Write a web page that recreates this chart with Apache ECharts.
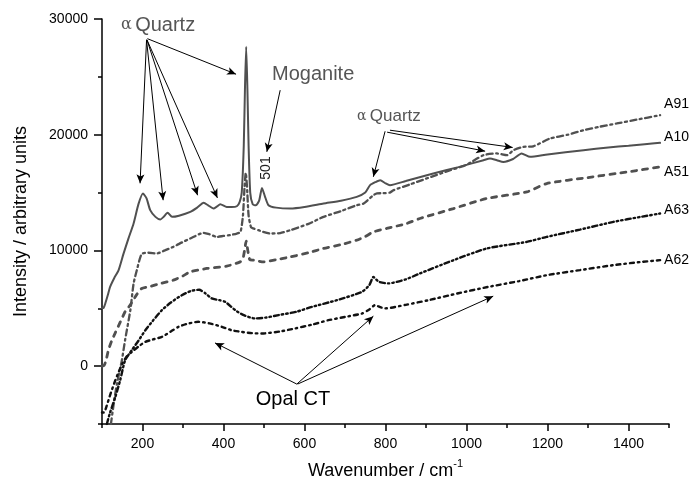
<!DOCTYPE html>
<html>
<head>
<meta charset="utf-8">
<script src="https://cdn.jsdelivr.net/npm/echarts@6/dist/echarts.min.js"></script>
<style>html,body{margin:0;padding:0;background:#fff}#c{width:691px;height:490px}</style>
</head>
<body>
<div id="c"></div>
<script>
// ---- data (wavenumber / intensity) ----
const wnA10 = [100,104,108,114,120,130,141,153,165,178,190,201,210,219,232,244,252,262,273,290,318,335,351,362,375,384,392,408,420,433,440,445,450,453,456,459,462,466,472,480,488,495,502,511,530,565,600,647,690,729,750,762,775,787,800,811,850,918,980,1042,1058,1075,1091,1115,1136,1157,1200,1289,1350,1400,1440,1478];
const intA10 = [5000,5040,5400,6100,6850,7600,8290,9700,11000,12330,14000,14920,14500,13480,12900,12670,12900,13250,12900,13000,13330,13700,14110,13900,13620,13800,14000,13760,13750,13820,14200,15000,19000,24000,27600,24000,19000,15000,14000,13900,14300,15400,14700,13910,13700,13620,13750,14050,14300,14630,15000,15640,15900,16070,15800,15640,16000,16650,17200,17800,17950,17800,17650,17900,18380,18090,18300,18660,18900,19050,19180,19300];

const wnA91 = [122,130,137,149,157,170,178,186,198,215,235,255,276,298,318,351,365,384,400,416,433,442,448,452,455,458,462,468,474,490,515,540,565,610,647,690,729,746,770,779,795,811,820,860,900,960,1000,1042,1075,1100,1116,1140,1165,1206,1250,1289,1330,1371,1420,1478];
const intA91 = [-5000,-3000,-1500,500,2250,4840,7140,8290,9700,9800,9740,10000,10310,10700,11030,11520,11400,11170,11250,11320,11460,11600,13000,15500,16700,15500,13000,12000,11900,11700,11460,11500,11750,12300,12900,13400,13910,14050,14770,14920,14950,15000,15210,15700,16200,16930,17400,18230,18380,18230,18660,18950,19000,19670,20000,20390,20700,20970,21300,21690];

const wnA51 = [100,105,110,116,124,133,145,157,170,186,198,220,244,276,300,318,359,408,441,448,452,456,460,465,474,499,530,565,610,647,690,729,750,770,803,850,885,968,1050,1149,1198,1300,1400,1478];
const intA51 = [0,50,500,1400,2200,2900,3800,4700,5300,6200,6710,6900,7140,7430,7800,8150,8440,8640,9010,9300,10000,10800,10000,9200,9160,9010,9200,9440,9800,10170,10500,10890,11200,11600,11900,12300,12760,13620,14490,15060,15780,16300,16800,17220];

const wnA63 = [112,120,133,145,157,174,190,207,225,248,270,297,320,340,355,371,390,404,429,450,478,505,536,580,618,680,742,760,770,783,807,850,885,968,1050,1149,1198,1280,1363,1430,1478];
const intA63 = [-5000,-4000,-2650,-1200,500,1400,2200,3100,3900,4840,5500,6130,6500,6600,6300,5850,5700,5560,4840,4400,4120,4200,4410,4700,5120,5700,6420,7000,7700,7300,7150,7500,8010,9160,10170,10740,11170,11800,12470,12900,13190];

const wnA62 = [100,105,110,120,130,140,150,160,174,190,207,225,248,270,289,315,338,365,396,420,445,470,495,540,577,620,659,700,742,760,774,787,799,850,906,980,1054,1130,1198,1280,1363,1430,1478];
const intA62 = [-4000,-4000,-3600,-2500,-1500,-600,200,800,1240,1700,2100,2300,2530,3000,3400,3700,3830,3700,3400,3100,2960,2850,2820,3000,3260,3600,3970,4250,4550,4900,5270,5100,4990,5300,5700,6300,6850,7350,7860,8300,8730,9000,9160];

const xMajorTicks = [200,400,600,800,1000,1200,1400];
const xMinorTicks = [100,300,500,700,900,1100,1300,1500];
const yMajorTicks = [0,10000,20000,30000];
const yMinorTicks = [-5000,5000,15000,25000];

// annotation arrows [x1,y1,x2,y2] in data units
const arrowsQuartz1 = [[210,28200,194,15800],[210,28200,251,14340],[211,28200,336,14770],[211,28200,385,14540],[212,28300,431,25230]];
const arrowsMoganite = [[540,23850,507,18520]];
const arrowsQuartz2 = [[799,20300,770,16360],[804,20220,1046,18580],[811,20390,1114,18900]];
const arrowsOpal = [[581,-1550,379,2010],[581,-1550,770,4320],[583,-1550,1066,6050]];

const FONT = 'Liberation Sans, Arial, sans-serif';
const zip = (a, b) => a.map((v, i) => [v, b[i]]);

const arrowData = [].concat(arrowsQuartz1, arrowsMoganite, arrowsQuartz2, arrowsOpal)
  .map(a => [{coord: [a[0], a[1]]}, {coord: [a[2], a[3]]}]);

const grey = '#505050';
function mk(name, wn, it, color, type, width, dy) {
  return {
    name, type: 'line', data: zip(wn, it), showSymbol: false, symbol: 'none',
    smooth: 0.2, z: 3,
    lineStyle: {color, type, width, cap: 'round'},
    endLabel: {show: true, formatter: name, fontFamily: FONT, fontSize: 14, color: '#000', distance: 4, offset: [0, dy]}
  };
}
const plain = v => String(v);

const chart = echarts.init(document.getElementById('c'), null, {renderer: 'canvas'});
chart.setOption({
  animation: false,
  backgroundColor: '#fff',
  grid: {left: 102, right: 22, top: 19, bottom: 66, containLabel: false},
  xAxis: [{
    type: 'value', min: 100, max: 1500,
    name: '{a|Wavenumber / cm}{s|-1}', nameLocation: 'middle', nameGap: 34,
    nameTextStyle: {rich: {a: {fontFamily: FONT, fontSize: 18, color: '#000', lineHeight: 22, verticalAlign: 'bottom'}, s: {fontFamily: FONT, fontSize: 11, color: '#000', lineHeight: 22, verticalAlign: 'top'}}},
    axisLine: {onZero: false, lineStyle: {color: '#000', width: 1.5}},
    axisTick: {customValues: xMajorTicks, length: 7, lineStyle: {color: '#000', width: 1.5}},
    axisLabel: {customValues: xMajorTicks, formatter: plain, margin: 13, fontFamily: FONT, fontSize: 14, color: '#000'},
    splitLine: {show: false}
  }, {
    type: 'value', min: 100, max: 1500, position: 'bottom', offset: 0,
    axisLine: {show: false, onZero: false},
    axisTick: {customValues: xMinorTicks, length: 4, lineStyle: {color: '#000', width: 1.5}},
    axisLabel: {show: false}, splitLine: {show: false}
  }],
  yAxis: [{
    type: 'value', min: -5000, max: 30000,
    name: 'Intensity / arbitrary units', nameLocation: 'middle', nameGap: 72,
    nameTextStyle: {fontFamily: FONT, fontSize: 18, color: '#000'},
    axisLine: {onZero: false, lineStyle: {color: '#000', width: 1.5}},
    axisTick: {customValues: yMajorTicks, length: 8, lineStyle: {color: '#000', width: 1.5}},
    axisLabel: {customValues: yMajorTicks, formatter: plain, margin: 14, fontFamily: FONT, fontSize: 14, color: '#000'},
    splitLine: {show: false}
  }, {
    type: 'value', min: -5000, max: 30000, position: 'left', offset: 0,
    axisLine: {show: false, onZero: false},
    axisTick: {customValues: yMinorTicks, length: 4, lineStyle: {color: '#000', width: 1.5}},
    axisLabel: {show: false}, splitLine: {show: false}
  }],
  series: [
    Object.assign(mk('A10', wnA10, intA10, grey, 'solid', 2, -6), {
      markLine: {
        silent: true, symbol: ['none', 'arrow'], symbolSize: [6, 9], precision: 5,
        label: {show: false},
        lineStyle: {color: '#000', type: 'solid', width: 1},
        data: arrowData
      }
    }),
    mk('A91', wnA91, intA91, grey, [6, 3.5, 2, 3.5], 2.3, -11),
    mk('A51', wnA51, intA51, grey, [5, 6], 2.8, 5),
    mk('A63', wnA63, intA63, '#111', [5, 3, 1.5, 3, 1.5, 3], 2.4, -3),
    mk('A62', wnA62, intA62, '#111', [1.5, 4, 4, 4], 2.4, 0)
  ],
  graphic: [
    {type: 'text', left: 121, top: 15, style: {text: '{g|α} {t|Quartz}', rich: {g: {fontFamily: 'DejaVu Serif', fontSize: 16, fill: '#555'}, t: {fontFamily: FONT, fontSize: 20, fill: '#555'}}}},
    {type: 'text', left: 272, top: 64, style: {text: 'Moganite', fontFamily: FONT, fontSize: 20, fill: '#555'}},
    {type: 'text', left: 357, top: 108, style: {text: '{g|α} {t|Quartz}', rich: {g: {fontFamily: 'DejaVu Serif', fontSize: 14, fill: '#555'}, t: {fontFamily: FONT, fontSize: 17, fill: '#555'}}}},
    {type: 'text', x: 266, y: 168, rotation: Math.PI / 2, style: {text: '501', fontFamily: FONT, fontSize: 14, fill: '#222', align: 'center', verticalAlign: 'middle'}},
    {type: 'text', x: 293, y: 399, style: {text: 'Opal CT', fontFamily: FONT, fontSize: 20, fill: '#000', align: 'center', verticalAlign: 'middle'}}
  ]
});
</script>
</body>
</html>
